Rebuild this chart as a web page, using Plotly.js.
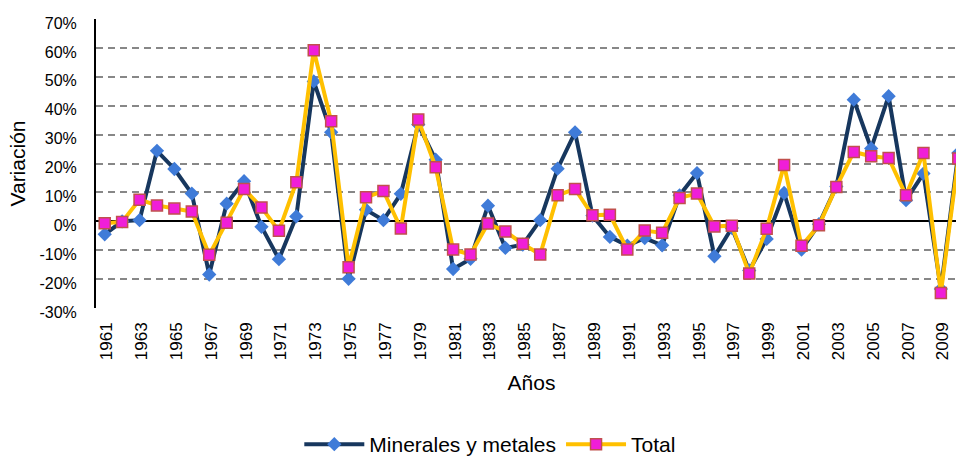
<!DOCTYPE html>
<html>
<head>
<meta charset="utf-8">
<script src="https://cdn.plot.ly/plotly-3.0.1.min.js"></script>
<style>
html,body{margin:0;padding:0;overflow:hidden;background:#fff;}
#chart{width:975px;height:490px;}
</style>
</head>
<body>
<div id="chart"></div>
<script>
var years = [];
for (var y = 1961; y <= 2010; y++) years.push(y);

var minerales = [-4.5, 0.0, 0.4, 24.4, 18.1, 9.6, -18.4, 6.1, 13.9, -1.9,
                 -13.1, 1.7, 48.4, 30.8, -19.9, 4.0, 0.4, 9.5, 33.5, 21.3,
                 -16.5, -13.0, 5.4, -9.2, -8.1, 0.4, 18.2, 30.8, 2.0, -5.4,
                 -8.4, -5.8, -8.3, 9.0, 16.7, -12.1, -2.3, -17.0, -6.1, 9.8,
                 -9.8, -1.0, 12.0, 42.1, 25.2, 43.3, 7.3, 16.5, -23.4, 23.6];

var total = [-0.7, -0.2, 7.5, 5.5, 4.4, 3.4, -11.6, -0.5, 11.2, 4.8,
             -3.3, 13.5, 59.2, 34.6, -15.9, 8.3, 10.5, -2.5, 35.2, 18.7,
             -9.8, -11.5, -0.8, -3.5, -7.8, -11.5, 9.0, 11.2, 2.1, 2.3,
             -9.8, -3.2, -4.0, 8.1, 9.6, -1.8, -1.5, -18.1, -2.6, 19.5,
             -8.5, -1.4, 11.9, 24.0, 22.5, 21.9, 9.0, 23.6, -24.8, 21.7];

var seriesNames = ['Minerales y metales', 'Total'];
var yTickVals = [-30, -20, -10, 0, 10, 20, 30, 40, 50, 60, 70];
var yTickText = yTickVals.map(function(v){ return v + '%'; });
var xTickVals = [];
for (var t = 1961; t <= 2009; t += 2) xTickVals.push(t);

var font = 'Liberation Sans, Arial, sans-serif';

var traces = [
  {
    x: years, y: minerales, name: seriesNames[0], type: 'scatter', mode: 'lines+markers',
    line: {color: '#17375E', width: 4},
    marker: {symbol: 'diamond', size: 11, color: '#3F7BD8', line: {width: 0}},
    cliponaxis: false
  },
  {
    x: years, y: total, name: seriesNames[1], type: 'scatter', mode: 'lines+markers',
    line: {color: '#FFC000', width: 4},
    marker: {symbol: 'square', size: 11, color: '#F01ED8', line: {color: '#C0504D', width: 1.5}},
    cliponaxis: false
  }
];

var layout = {
  width: 975, height: 490,
  margin: {l: 95.5, r: 8, t: 19.3, b: 181.6, pad: 0},
  paper_bgcolor: '#fff', plot_bgcolor: '#fff',
  font: {family: font, color: '#000'},
  showlegend: true,
  legend: {
    orientation: 'h', x: 0.4527, xanchor: 'center', y: -0.4725, yanchor: 'middle',
    font: {size: 21, family: font}, itemwidth: 60, tracegroupgap: 0
  },
  xaxis: {
    range: [1960.5, 2010.5], tickmode: 'array', tickvals: xTickVals,
    tickangle: -90, tickfont: {size: 17, family: font},
    showgrid: false, zeroline: false, showline: false, ticks: '',
    ticklabelstandoff: 10, ticklabelshift: 2,
    title: {text: 'Años', font: {size: 21, family: font}, standoff: 16}
  },
  yaxis: {
    range: [-30, 70], tickmode: 'array', tickvals: yTickVals, ticktext: yTickText,
    tickfont: {size: 16, family: font},
    showgrid: true, gridcolor: '#878787', griddash: '7px,5px', gridwidth: 2,
    zeroline: true, zerolinecolor: '#000', zerolinewidth: 2,
    showline: true, linecolor: '#000', linewidth: 2,
    ticks: '', ticklabelstandoff: 14, ticklabelshift: 4,
    title: {text: 'Variación', font: {size: 21, family: font}, standoff: 8}
  }
};

Plotly.newPlot('chart', traces, layout, {displayModeBar: false, staticPlot: true});
</script>
</body>
</html>
